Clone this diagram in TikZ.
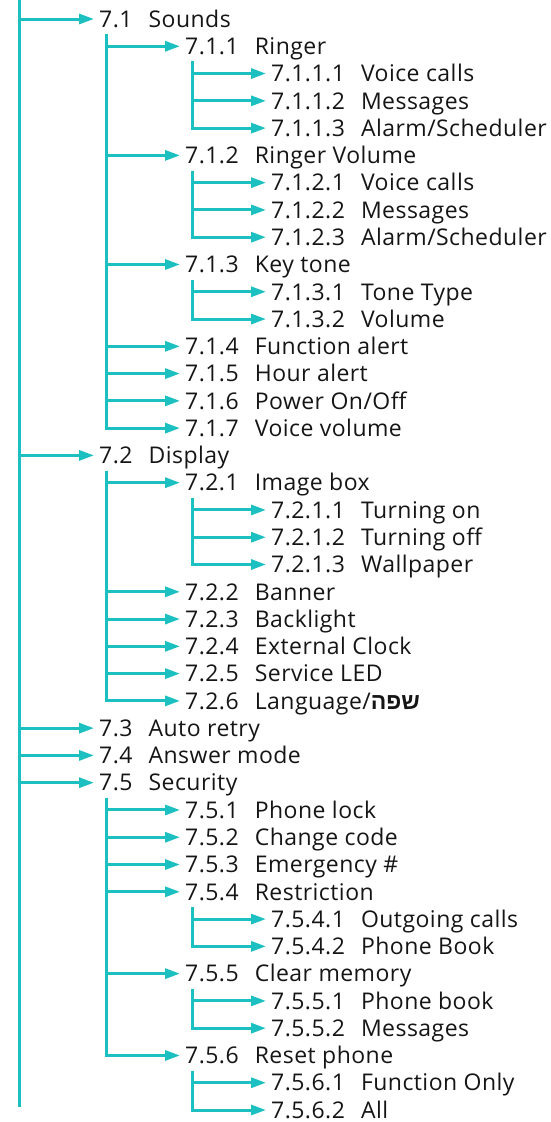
\documentclass[tikz,border=0pt]{standalone}
\usepackage{fontspec}
\setmainfont[LetterSpace=2]{Open Sans}
\newfontfamily\hebfont[Script=Hebrew]{Liberation Sans}
\TeXXeTstate=1
\usetikzlibrary{arrows.meta}
\definecolor{menuteal}{HTML}{1CC0C0}
\definecolor{menuink}{HTML}{151515}
\newcommand{\mnu}[2]{#1\hspace{0.7em}#2}

\begin{document}
\begin{tikzpicture}[x=1pt, y=-1pt,
  entry/.style={anchor=west, inner xsep=5pt, inner ysep=0pt, text=menuink,
    text height=16.5pt, text depth=0pt, minimum height=30pt,
    font=\fontsize{23}{25}\selectfont},
  branch/.style={menuteal, line width=3pt, -{Triangle[length=15pt, width=10pt]}},
  spineline/.style={menuteal, line width=3pt}]
  \useasboundingbox (0,0) rectangle (550,1122);
  \def\ry{27.275}
  % menu entries, one per row
  \node[entry] (n71)   at (94,19+\ry*0)   {\mnu{7.1}{Sounds}};
  \node[entry] (n711)  at (180,19+\ry*1)  {\mnu{7.1.1}{Ringer}};
  \node[entry] (n7111) at (266,19+\ry*2)  {\mnu{7.1.1.1}{Voice calls}};
  \node[entry] (n7112) at (266,19+\ry*3)  {\mnu{7.1.1.2}{Messages}};
  \node[entry] (n7113) at (266,19+\ry*4)  {\mnu{7.1.1.3}{Alarm/Scheduler}};
  \node[entry] (n712)  at (180,19+\ry*5)  {\mnu{7.1.2}{Ringer Volume}};
  \node[entry] (n7121) at (266,19+\ry*6)  {\mnu{7.1.2.1}{Voice calls}};
  \node[entry] (n7122) at (266,19+\ry*7)  {\mnu{7.1.2.2}{Messages}};
  \node[entry] (n7123) at (266,19+\ry*8)  {\mnu{7.1.2.3}{Alarm/Scheduler}};
  \node[entry] (n713)  at (180,19+\ry*9)  {\mnu{7.1.3}{Key tone}};
  \node[entry] (n7131) at (266,19+\ry*10) {\mnu{7.1.3.1}{Tone Type}};
  \node[entry] (n7132) at (266,19+\ry*11) {\mnu{7.1.3.2}{Volume}};
  \node[entry] (n714)  at (180,19+\ry*12) {\mnu{7.1.4}{Function alert}};
  \node[entry] (n715)  at (180,19+\ry*13) {\mnu{7.1.5}{Hour alert}};
  \node[entry] (n716)  at (180,19+\ry*14) {\mnu{7.1.6}{Power On/Off}};
  \node[entry] (n717)  at (180,19+\ry*15) {\mnu{7.1.7}{Voice volume}};
  \node[entry] (n72)   at (94,19+\ry*16)  {\mnu{7.2}{Display}};
  \node[entry] (n721)  at (180,19+\ry*17) {\mnu{7.2.1}{Image box}};
  \node[entry] (n7211) at (266,19+\ry*18) {\mnu{7.2.1.1}{Turning on}};
  \node[entry] (n7212) at (266,19+\ry*19) {\mnu{7.2.1.2}{Turning off}};
  \node[entry] (n7213) at (266,19+\ry*20) {\mnu{7.2.1.3}{Wallpaper}};
  \node[entry] (n722)  at (180,19+\ry*21) {\mnu{7.2.2}{Banner}};
  \node[entry] (n723)  at (180,19+\ry*22) {\mnu{7.2.3}{Backlight}};
  \node[entry] (n724)  at (180,19+\ry*23) {\mnu{7.2.4}{External Clock}};
  \node[entry] (n725)  at (180,19+\ry*24) {\mnu{7.2.5}{Service LED}};
  \node[entry] (n726)  at (180,19+\ry*25)
    {\mnu{7.2.6}{Language/{\hebfont\bfseries\beginR שפה\endR}}};
  \node[entry] (n73)   at (94,19+\ry*26)  {\mnu{7.3}{Auto retry}};
  \node[entry] (n74)   at (94,19+\ry*27)  {\mnu{7.4}{Answer mode}};
  \node[entry] (n75)   at (94,19+\ry*28)  {\mnu{7.5}{Security}};
  \node[entry] (n751)  at (180,19+\ry*29) {\mnu{7.5.1}{Phone lock}};
  \node[entry] (n752)  at (180,19+\ry*30) {\mnu{7.5.2}{Change code}};
  \node[entry] (n753)  at (180,19+\ry*31) {\mnu{7.5.3}{Emergency \#}};
  \node[entry] (n754)  at (180,19+\ry*32) {\mnu{7.5.4}{Restriction}};
  \node[entry] (n7541) at (266,19+\ry*33) {\mnu{7.5.4.1}{Outgoing calls}};
  \node[entry] (n7542) at (266,19+\ry*34) {\mnu{7.5.4.2}{Phone Book}};
  \node[entry] (n755)  at (180,19+\ry*35) {\mnu{7.5.5}{Clear memory}};
  \node[entry] (n7551) at (266,19+\ry*36) {\mnu{7.5.5.1}{Phone book}};
  \node[entry] (n7552) at (266,19+\ry*37) {\mnu{7.5.5.2}{Messages}};
  \node[entry] (n756)  at (180,19+\ry*38) {\mnu{7.5.6}{Reset phone}};
  \node[entry] (n7561) at (266,19+\ry*39) {\mnu{7.5.6.1}{Function Only}};
  \node[entry] (n7562) at (266,19+\ry*40) {\mnu{7.5.6.2}{All}};
  % main spine, runs on past the last entry
  \coordinate (spine) at (19,0);
  \coordinate (spineend) at (19,1107);
  \draw[spineline] (spine) -- (spineend);
  \foreach \c in {n71,n72,n73,n74,n75}
    \draw[branch] (spine) |- (\c.west);
  % sub-menus
  \foreach \p/\c in {n71/n711, n71/n712, n71/n713, n71/n714, n71/n715,
      n71/n716, n71/n717, n711/n7111, n711/n7112, n711/n7113,
      n712/n7121, n712/n7122, n712/n7123, n713/n7131, n713/n7132,
      n72/n721, n72/n722, n72/n723, n72/n724, n72/n725, n72/n726,
      n721/n7211, n721/n7212, n721/n7213,
      n75/n751, n75/n752, n75/n753, n75/n754, n75/n755, n75/n756,
      n754/n7541, n754/n7542, n755/n7551, n755/n7552,
      n756/n7561, n756/n7562}
    \draw[branch] ([xshift=12.5pt]\p.south west) |- (\c.west);
\end{tikzpicture}
\end{document}
